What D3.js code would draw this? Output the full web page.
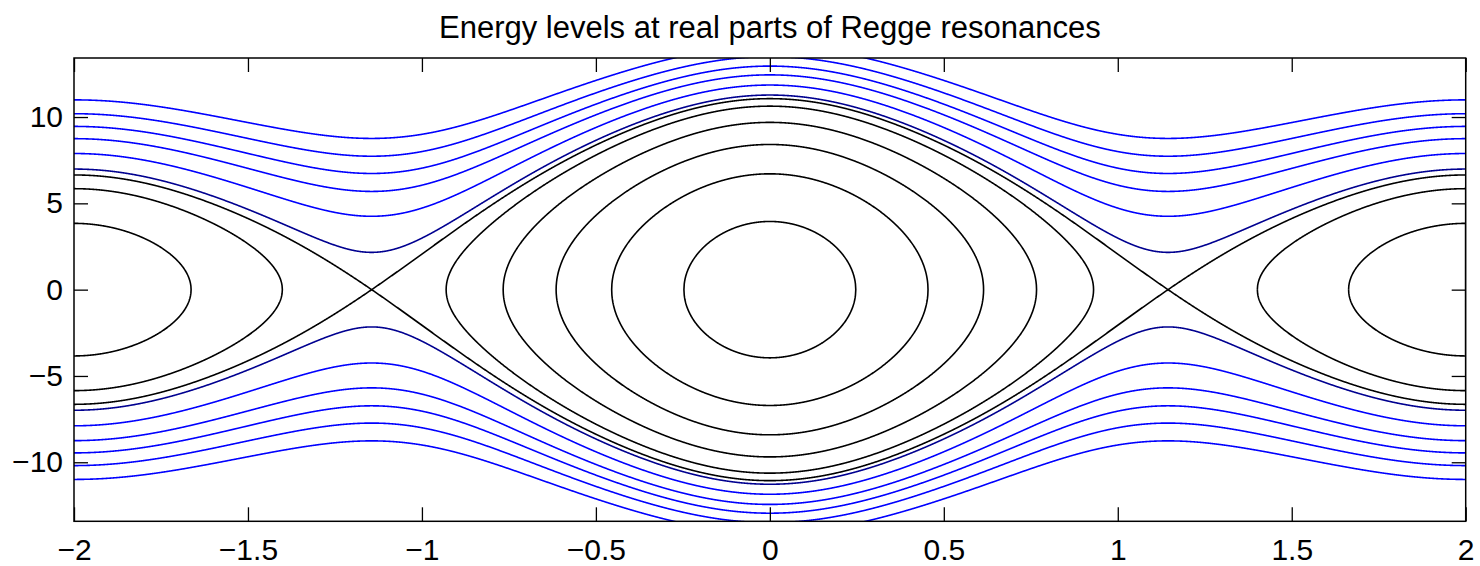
<!DOCTYPE html>
<html><head><meta charset="utf-8">
<script src="https://cdn.jsdelivr.net/npm/d3@7"></script>
<style>
html,body{margin:0;padding:0;background:#fff;}
svg{display:block;font-family:Helvetica,"Liberation Sans",Arial,sans-serif;}
</style></head><body>
<svg id="chart" width="1480" height="566"></svg>
<script>
const titleText = "Energy levels at real parts of Regge resonances";
const xDomain = [-2, 2];
const yDomain = [-13.42, 13.42];
const xTicks = [-2, -1.5, -1, -0.5, 0, 0.5, 1, 1.5, 2];
const yTicks = [-10, -5, 0, 5, 10];

// potential V(x) = sum a_k cos(k*pi*x/2), fitted to the curves of the picture
const potentialCoeffs = [-19.1887, -19.5141, -0.2528, -0.0506, -0.1300, -0.2440];
// closed levels in the central well, read as momentum where they cross x = 0
const centerMomentaAtZero = [3.95, 6.71, 8.41, 9.69, 10.63];
// closed levels in the side wells, read as momentum at x = ±2
const sideMomentaAtEdge = [3.84, 5.85];
// open (blue) levels, read as momentum above the saddle point
const blueMomentaAtSaddle = [2.16, 4.25, 5.69, 6.73, 7.73, 8.76];

function V(xx){let s=0;potentialCoeffs.forEach((a,i)=>{s+=a*Math.cos((i+1)*Math.PI*xx/2);});return s;}
function argmax(f,a,b){const g=(Math.sqrt(5)-1)/2;let c=b-g*(b-a),d=a+g*(b-a);for(let i=0;i<100;i++){if(f(c)>f(d)){b=d;}else{a=c;}c=b-g*(b-a);d=a+g*(b-a);}return (a+b)/2;}
const saddle=argmax(V,0.8,1.6);
const Vs=V(saddle), V0=V(0), V2=V(2);

const centerLevels = centerMomentaAtZero.map(p=>V0+p*p/2);
const sideLevels = sideMomentaAtEdge.map(p=>V2+p*p/2);
const blueLevels = blueMomentaAtSaddle.map(p=>Vs+p*p/2);

const svg=d3.select("#chart");
const plot={left:74,right:1465.7,top:58,bottom:521.3};
const x=d3.scaleLinear().domain(xDomain).range([plot.left,plot.right]);
const y=d3.scaleLinear().domain(yDomain).range([plot.bottom,plot.top]);

svg.append("clipPath").attr("id","clip").append("rect")
 .attr("x",plot.left).attr("y",plot.top).attr("width",plot.right-plot.left).attr("height",plot.bottom-plot.top);

function levelPaths(E,isSep,keep){
 const N=4000, tol=isSep?1e-6:0;
 const X=d3.range(N+1).map(i=>xDomain[0]+(xDomain[1]-xDomain[0])*i/N);
 const f=xx=>E-V(xx);
 const inside=X.map(xx=>f(xx)>=-tol);
 const ivs=[];let s=-1;
 for(let i=0;i<=N;i++){if(inside[i]&&s<0)s=i;if((!inside[i]||i===N)&&s>=0){ivs.push([s,inside[i]?i:i-1]);s=-1;}}
 const refine=(lo,hi)=>{let a=lo,b=hi;const fa=f(a)>=-tol;for(let k=0;k<60;k++){const m=(a+b)/2;if((f(m)>=-tol)===fa)a=m;else b=m;}return (a+b)/2;};
 const pv=xx=>Math.sqrt(2*Math.max(0,f(xx)));
 const paths=[];
 ivs.forEach(([i0,i1])=>{
  if(keep && !keep(X[i0],X[i1])) return;
  const aEdge=i0===0,bEdge=i1===N;
  const pts=[];
  if(!aEdge)pts.push(refine(X[i0-1],X[i0]));
  for(let i=i0;i<=i1;i++)pts.push(X[i]);
  if(!bEdge)pts.push(refine(X[i1],X[i1+1]));
  const up=pts.map((xx,j)=>[xx,((j===0&&!aEdge)||(j===pts.length-1&&!bEdge))?0:pv(xx)]);
  const lo=up.map(([a,b])=>[a,-b]);
  if(aEdge&&bEdge){paths.push({pts:up,closed:false});paths.push({pts:lo,closed:false});}
  else paths.push({pts:up.concat(lo.slice().reverse()),closed:!aEdge&&!bEdge});
 });
 return paths;
}
const line=d3.line().x(d=>x(d[0])).y(d=>y(d[1]));
const g=svg.append("g").attr("clip-path","url(#clip)");
function drawLevel(E,color,isSep,keep){
 levelPaths(E,isSep,keep).forEach(p=>{
  g.append("path").attr("d",line(p.pts)+(p.closed?"Z":"")).attr("fill","none")
   .attr("stroke",color).attr("stroke-width",1.6).attr("stroke-linejoin","round");
 });
}
centerLevels.forEach(E=>drawLevel(E,"#000",false,(a,b)=>a<0&&b>0));
sideLevels.forEach(E=>drawLevel(E,"#000",false,(a,b)=>a<=-1.99||b>=1.99));
drawLevel(Vs,"#000",true);
blueLevels.forEach((E,i)=>drawLevel(E,i===0?"#000090":"#0000ff",false));

const fmt=d=>(d<0?"\u2212":"")+Math.abs(d);
const axB=svg.append("g").attr("transform",`translate(0,${plot.bottom})`)
 .call(d3.axisBottom(x).tickValues(xTicks).tickSize(-14).tickPadding(17).tickFormat(fmt));
const axT=svg.append("g").attr("transform",`translate(0,${plot.top})`)
 .call(d3.axisTop(x).tickValues(xTicks).tickSize(-14).tickFormat(""));
const axL=svg.append("g").attr("transform",`translate(${plot.left},0)`)
 .call(d3.axisLeft(y).tickValues(yTicks).tickSize(-14).tickPadding(11).tickFormat(fmt));
const axR=svg.append("g").attr("transform",`translate(${plot.right},0)`)
 .call(d3.axisRight(y).tickValues(yTicks).tickSize(-14).tickFormat(""));
[axB,axT,axL,axR].forEach(a=>{a.select(".domain").remove();a.selectAll("line").attr("stroke","#000").attr("stroke-width",1.3);
 a.selectAll("text").attr("font-size",30).attr("fill","#000").attr("font-family",'Helvetica,"Liberation Sans",Arial,sans-serif');});
svg.append("rect").attr("x",plot.left).attr("y",plot.top).attr("width",plot.right-plot.left).attr("height",plot.bottom-plot.top)
 .attr("fill","none").attr("stroke","#000").attr("stroke-width",1.5);
svg.append("text").attr("x",(plot.left+plot.right)/2).attr("y",38).attr("text-anchor","middle")
 .attr("font-size",31).attr("fill","#000").text(titleText);
</script></body></html>
